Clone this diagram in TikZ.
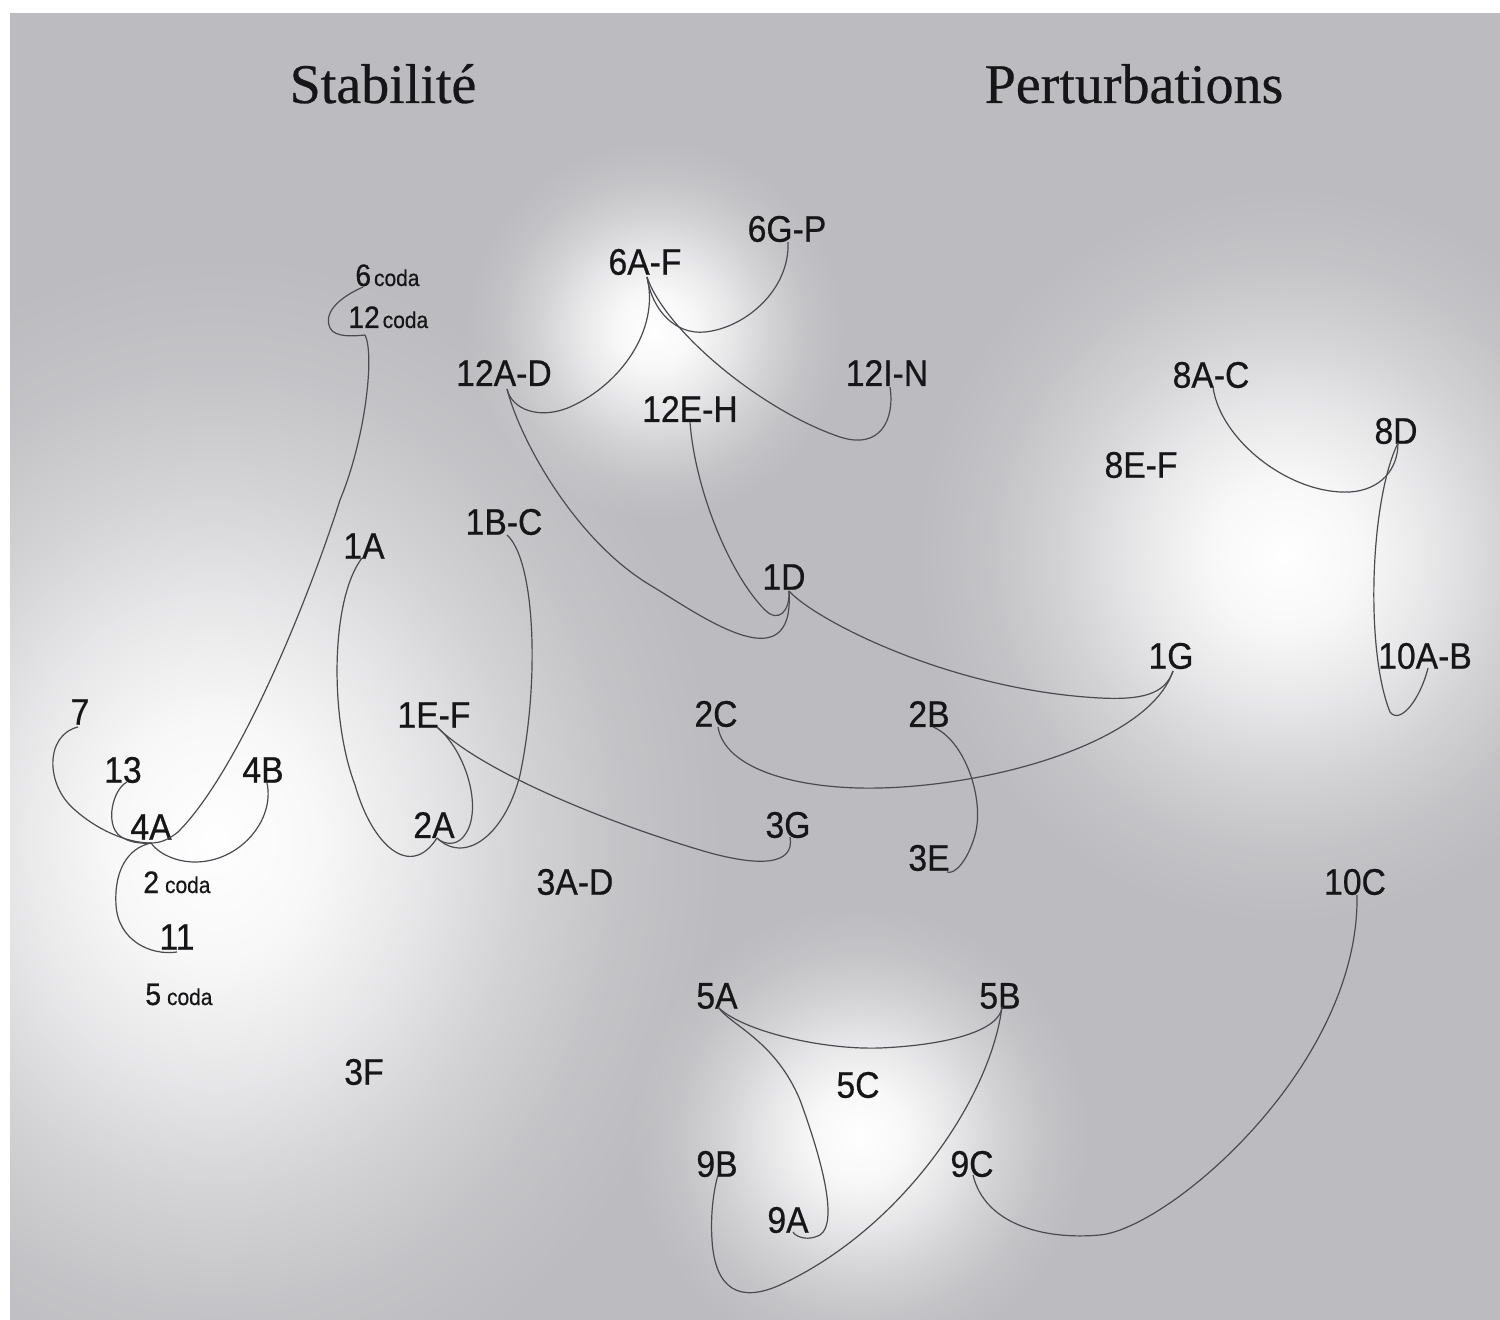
\documentclass[tikz,border=0pt]{standalone}
\usepackage{fontspec}
\newfontfamily\labfont[FakeStretch=0.91,FakeBold=0.6]{Liberation Sans}
\newfontfamily\titlefont[FakeBold=0.5]{Liberation Serif}
\usetikzlibrary{calc,fadings}
\definecolor{bg}{RGB}{188,188,192}
\definecolor{txt}{RGB}{22,22,24}
\definecolor{ln}{RGB}{74,74,80}
\pgfdeclareradialshading{glowshade}{\pgfpointorigin}{color(0bp)=(pgftransparent!0); color(5bp)=(pgftransparent!10); color(10bp)=(pgftransparent!35); color(15bp)=(pgftransparent!65); color(20bp)=(pgftransparent!88); color(25bp)=(pgftransparent!100); color(50bp)=(pgftransparent!100)}
\pgfdeclarefading{glow}{\pgfuseshading{glowshade}}
\tikzset{
  lab/.style={inner sep=0pt, text=txt, font=\labfont\fontsize{18.5}{18.5}\selectfont},
  coda/.style={inner sep=0pt, text=txt, anchor=base west, font=\labfont},
  ttl/.style={inner sep=0pt, text=txt, anchor=base, font=\titlefont\fontsize{28}{28}\selectfont},
  link/.style={draw=ln, line width=0.6pt},
  glowspot/.style={fill=white, path fading=glow}
}
\newcommand\codalab[2]{{\fontsize{15.5}{15.5}\selectfont #1}\hspace{#2}{\fontsize{11.5}{11.5}\selectfont coda}}
\begin{document}
\begin{tikzpicture}[x=0.5pt,y=-0.5pt]
\useasboundingbox (0,0) rectangle (1500,1320);
\fill[white] (0,0) rectangle (1500,1320);
\fill[bg] (10,13) rectangle (1500,1320);
\begin{scope}
\clip (10,13) rectangle (1500,1320);
\fill[glowspot] (215,840) ellipse [x radius=255pt, y radius=295pt];
\fill[glowspot] (655,330) circle [radius=95pt];
\fill[glowspot] (1285,555) circle [radius=185pt];
\fill[glowspot] (860,1135) circle [radius=115pt];
\end{scope}

% titles
\node[ttl] (tStab) at (383,103) {Stabilité};
\node[ttl] (tPert) at (1134,103) {Perturbations};

% coda labels
\node[coda] (n6c) at (355,286) {\codalab{6}{1.5pt}};
\node[coda] (n12c) at (348,328) {\codalab{12}{1.5pt}};
\node[coda] (n2c) at (143,893) {\codalab{2}{3pt}};
\node[coda] (n5c) at (145,1005) {\codalab{5}{3pt}};

% labels
\node[lab] (n6AF) at (645,262) {6A-F};
\node[lab] (n6GP) at (787,229) {6G-P};
\node[lab] (n12AD) at (504,373) {12A-D};
\node[lab] (n12EH) at (690,409) {12E-H};
\node[lab] (n12IN) at (887,373) {12I-N};
\node[lab] (n8AC) at (1211,375) {8A-C};
\node[lab] (n8D) at (1396,431) {8D};
\node[lab] (n8EF) at (1141,465) {8E-F};
\node[lab] (n1A) at (364,546) {1A};
\node[lab] (n1BC) at (504,522) {1B-C};
\node[lab] (n1D) at (784,577) {1D};
\node[lab] (n1G) at (1171,656) {1G};
\node[lab] (n10AB) at (1425,656) {10A-B};
\node[lab] (n7) at (80,712) {7};
\node[lab] (n1EF) at (434,715) {1E-F};
\node[lab] (n2C) at (716,714) {2C};
\node[lab] (n2B) at (929,714) {2B};
\node[lab] (n13) at (123,770) {13};
\node[lab] (n4B) at (263,770) {4B};
\node[lab] (n4A) at (151,827) {4A};
\node[lab] (n2A) at (434,825) {2A};
\node[lab] (n3G) at (788,825) {3G};
\node[lab] (n3E) at (929,858) {3E};
\node[lab] (n3AD) at (575,882) {3A-D};
\node[lab] (n10C) at (1355,882) {10C};
\node[lab] (n11) at (177,937) {11};
\node[lab] (n5A) at (717,996) {5A};
\node[lab] (n5B) at (1000,996) {5B};
\node[lab] (n3F) at (364,1072) {3F};
\node[lab] (n5C) at (858,1085) {5C};
\node[lab] (n9B) at (717,1164) {9B};
\node[lab] (n9C) at (972,1164) {9C};
\node[lab] (n9A) at (788,1220) {9A};

% attachment points
\coordinate (a6c) at ($(n6c.base west)+(8,1)$);
\coordinate (a12c) at ($(n12c.base west)+(17,7)$);
\coordinate (a6AF) at ($(n6AF)+(2,15)$);
\coordinate (a6GP) at ($(n6GP)+(1,13)$);
\coordinate (a12AD) at ($(n12AD)+(3,16)$);
\coordinate (a12EH) at ($(n12EH)+(0,13)$);
\coordinate (a12IN) at ($(n12IN)+(3,14)$);
\coordinate (a8AC) at ($(n8AC)+(2,12)$);
\coordinate (a8D) at ($(n8D)+(2,12)$);
\coordinate (a10AB) at ($(n10AB)+(3,12)$);
\coordinate (a1A) at ($(n1A)+(-2,12)$);
\coordinate (a1BC) at ($(n1BC)+(3,13)$);
\coordinate (a1D) at ($(n1D)+(5,14)$);
\coordinate (a1G) at ($(n1G)+(2,15)$);
\coordinate (a1EF) at ($(n1EF)+(3,12)$);
\coordinate (a2C) at ($(n2C)+(2,13)$);
\coordinate (a2B) at ($(n2B)+(4,13)$);
\coordinate (a2A) at ($(n2A)+(3,13)$);
\coordinate (a3G) at ($(n3G)+(2,12)$);
\coordinate (a3E) at ($(n3E)+(18,14)$);
\coordinate (a7) at ($(n7)+(-2,15)$);
\coordinate (a13) at ($(n13)+(4,12)$);
\coordinate (a4B) at ($(n4B)+(4,13)$);
\coordinate (a4A) at ($(n4A)+(0,16)$);
\coordinate (a11) at ($(n11)+(0,15)$);
\coordinate (a10C) at ($(n10C)+(2,13)$);
\coordinate (a5A) at ($(n5A)+(1,11)$);
\coordinate (a5B) at ($(n5B)+(2,11)$);
\coordinate (a9A) at ($(n9A)+(5,12)$);
\coordinate (a9B) at ($(n9B)+(1,11)$);
\coordinate (a9C) at ($(n9C)+(1,11)$);

% connectors
\draw[link] (a6c) .. controls (345,295) and (322,310) .. (330,328) .. controls (335,338) and (355,336) .. (a12c);
\draw[link] (a12c) .. controls (375,355) and (365,440) .. (340,500) .. controls (310,595) and (240,770) .. (178,832) .. controls (168,840) and (160,843) .. (a4A);
\draw[link] (a7) .. controls (45,735) and (45,785) .. (75,810) .. controls (95,828) and (125,843) .. (a4A);
\draw[link] (a13) .. controls (112,790) and (105,825) .. (120,836) .. controls (128,842) and (140,844) .. (a4A);
\draw[link] (a4B) .. controls (275,820) and (240,862) .. (195,862) .. controls (175,862) and (158,853) .. (a4A);
\draw[link] (a11) .. controls (150,956) and (118,940) .. (116,905) .. controls (114,870) and (128,848) .. (a4A);
\draw[link] (a1A) .. controls (330,600) and (330,720) .. (355,785) .. controls (372,845) and (410,880) .. (a2A);
\draw[link] (a1BC) .. controls (535,560) and (540,680) .. (520,775) .. controls (505,835) and (465,865) .. (a2A);
\draw[link] (a1EF) .. controls (470,755) and (485,820) .. (460,840) .. controls (452,846) and (442,843) .. (a2A);
\draw[link] (a1EF) .. controls (480,770) and (600,820) .. (700,850) .. controls (760,868) and (795,865) .. (a3G);
\draw[link] (a6AF) .. controls (652,310) and (675,335) .. (705,332) .. controls (745,328) and (790,290) .. (a6GP);
\draw[link] (a6AF) .. controls (660,330) and (620,385) .. (570,407) .. controls (540,420) and (512,410) .. (a12AD);
\draw[link] (a6AF) .. controls (665,330) and (760,410) .. (840,437) .. controls (880,450) and (895,420) .. (a12IN);
\draw[link] (a12AD) .. controls (520,440) and (575,540) .. (650,585) .. controls (700,615) and (795,685) .. (a1D);
\draw[link] (a12EH) .. controls (695,490) and (730,575) .. (765,610) .. controls (778,623) and (790,612) .. (a1D);
\draw[link] (a1D) .. controls (815,620) and (950,690) .. (1100,698) .. controls (1140,700) and (1165,695) .. (a1G);
\draw[link] (a2C) .. controls (725,770) and (800,790) .. (880,788) .. controls (1000,785) and (1150,740) .. (a1G);
\draw[link] (a2B) .. controls (965,740) and (985,800) .. (975,835) .. controls (968,860) and (955,875) .. (a3E);
\draw[link] (a8AC) .. controls (1220,440) and (1290,495) .. (1350,492) .. controls (1380,490) and (1398,470) .. (a8D);
\draw[link] (a8D) .. controls (1370,500) and (1365,650) .. (1390,712) .. controls (1400,725) and (1420,700) .. (a10AB);
\draw[link] (a5A) .. controls (740,1030) and (820,1050) .. (880,1048) .. controls (950,1045) and (1000,1030) .. (a5B);
\draw[link] (a5A) .. controls (730,1025) and (775,1040) .. (800,1100) .. controls (822,1160) and (842,1232) .. (815,1237) .. controls (806,1240) and (796,1237) .. (a9A);
\draw[link] (a5B) .. controls (990,1100) and (900,1230) .. (780,1285) .. controls (740,1303) and (715,1290) .. (712,1240) .. controls (710,1210) and (715,1185) .. (a9B);
\draw[link] (a9C) .. controls (985,1225) and (1045,1240) .. (1100,1235) .. controls (1170,1228) and (1360,1065) .. (a10C);
\end{tikzpicture}
\end{document}
